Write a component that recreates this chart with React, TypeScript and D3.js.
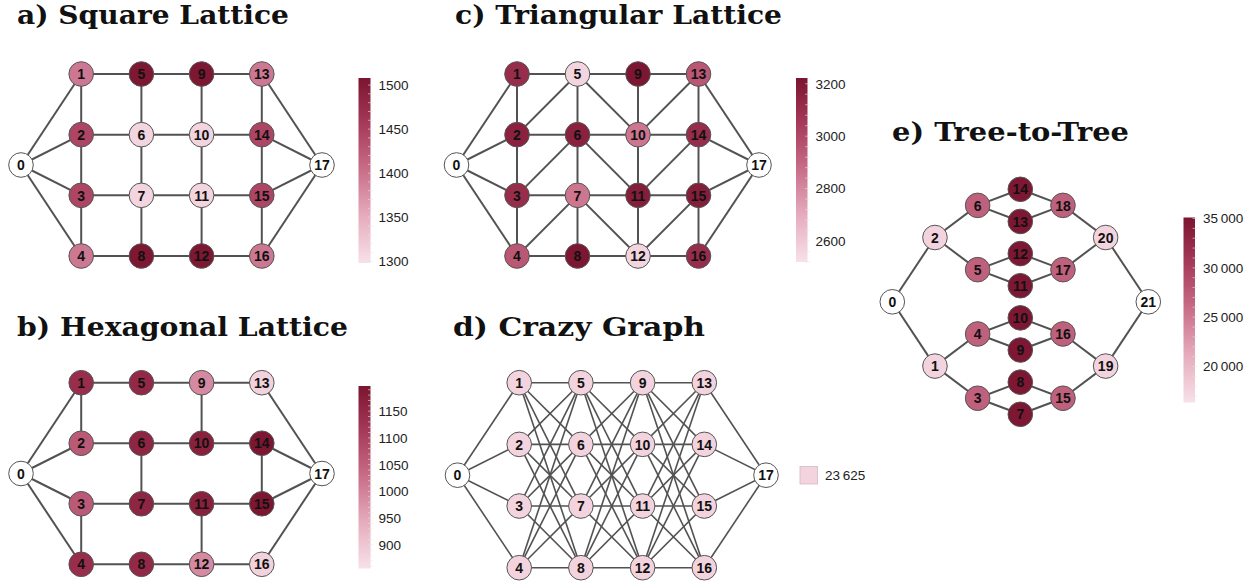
import React from 'react';
import * as d3 from 'd3';

const W = 1256;
const H = 588;

// ---------- colour map ----------
const COLOR_STOPS = ['#f7e1e8', '#e6adbf', '#c96f8a', '#a63a5a', '#7b1530'];
const cmap = d3.piecewise(d3.interpolateRgb, COLOR_STOPS);

// ---------- lattice layout (shared by a, b, c, d) ----------
const latticeIds = [0, 1, 2, 3, 4, 5, 6, 7, 8, 9, 10, 11, 12, 13, 14, 15, 16, 17];
const latticeCols = [0, 1, 1, 1, 1, 2, 2, 2, 2, 3, 3, 3, 3, 4, 4, 4, 4, 5];
const latticeRows = [1.5, 0, 1, 2, 3, 0, 1, 2, 3, 0, 1, 2, 3, 0, 1, 2, 3, 1.5];

const squareEdges: [number, number][] = [
  [0, 1], [0, 2], [0, 3], [0, 4],
  [1, 2], [2, 3], [3, 4], [5, 6], [6, 7], [7, 8], [9, 10], [10, 11], [11, 12], [13, 14], [14, 15], [15, 16],
  [1, 5], [5, 9], [9, 13], [2, 6], [6, 10], [10, 14], [3, 7], [7, 11], [11, 15], [4, 8], [8, 12], [12, 16],
  [13, 17], [14, 17], [15, 17], [16, 17],
];
const hexEdges: [number, number][] = [
  [0, 1], [0, 2], [0, 3], [0, 4],
  [1, 5], [5, 9], [9, 13], [1, 2], [2, 6], [6, 10], [10, 14], [9, 10], [6, 7],
  [3, 7], [7, 11], [11, 15], [14, 15], [3, 4], [4, 8], [8, 12], [12, 16], [11, 12],
  [13, 17], [14, 17], [15, 17], [16, 17],
];
const triDiagonals: [number, number][] = [
  [2, 5], [3, 6], [4, 7], [5, 10], [6, 11], [7, 12], [10, 13], [11, 14], [12, 15],
];
const triEdges: [number, number][] = [...squareEdges, ...triDiagonals];

const crazyColumns = [[1, 2, 3, 4], [5, 6, 7, 8], [9, 10, 11, 12], [13, 14, 15, 16]];
const crazyEdges: [number, number][] = (() => {
  const e: [number, number][] = [];
  crazyColumns[0].forEach((n) => e.push([0, n]));
  for (let c = 0; c < crazyColumns.length - 1; c++) {
    crazyColumns[c].forEach((a) => crazyColumns[c + 1].forEach((b) => e.push([a, b])));
  }
  crazyColumns[3].forEach((n) => e.push([n, 17]));
  return e;
})();

// node values (null = source / sink, drawn white)
const squareValues = [null, 1395, 1445, 1445, 1395, 1505, 1310, 1310, 1505, 1505, 1310, 1310, 1505, 1395, 1445, 1445, 1395, null];
const hexValues = [null, 1140, 1060, 1060, 1140, 1150, 1160, 1160, 1150, 990, 1170, 1170, 990, 880, 1195, 1195, 880, null];
const triValues = [null, 3110, 3160, 3110, 2950, 2560, 3160, 2850, 3215, 3215, 2850, 3180, 2560, 2950, 3110, 3180, 3110, null];
const crazyValue = 23625;
const crazyValues = latticeIds.map((i) => (i === 0 || i === 17 ? null : crazyValue));

// colour-bar domains and ticks
const squareDomain = [1298, 1508];
const squareTicks = [1300, 1350, 1400, 1450, 1500];
const hexDomain = [856, 1197];
const hexTicks = [900, 950, 1000, 1050, 1100, 1150];
const triDomain = [2520, 3222];
const triTicks = [2600, 2800, 3000, 3200];
const treeDomain = [16350, 35100];
const treeTicks = [20000, 25000, 30000, 35000];
// a single-valued graph: the colour sits at the light end of the map
const crazyDomain = [crazyValue - 1600, crazyValue + 25000];

// ---------- tree-to-tree ----------
const treeIds = d3.range(22);
const treeLevels = [0, 1, 1, 2, 2, 2, 2, 3, 3, 3, 3, 3, 3, 3, 3, 4, 4, 4, 4, 5, 5, 6];
const treeRows = [3.5, 5.5, 1.5, 6.5, 4.5, 2.5, 0.5, 7, 6, 5, 4, 3, 2, 1, 0, 6.5, 4.5, 2.5, 0.5, 5.5, 1.5, 3.5];
const treeEdges: [number, number][] = [
  [0, 2], [0, 1], [2, 6], [2, 5], [1, 4], [1, 3],
  [6, 14], [6, 13], [5, 12], [5, 11], [4, 10], [4, 9], [3, 8], [3, 7],
  [14, 18], [13, 18], [12, 17], [11, 17], [10, 16], [9, 16], [8, 15], [7, 15],
  [18, 20], [17, 20], [16, 19], [15, 19], [20, 21], [19, 21],
];
const treeValues = [null, 17500, 17500, 27000, 27000, 27000, 27000, 34800, 34800, 34800, 34800, 34800, 34800, 34800, 34800, 27000, 27000, 27000, 27000, 17500, 17500, null];

// ---------- helpers ----------
const fmt = (v: number) => {
  if (Math.abs(v) >= 10000) return d3.format(',')(v).replace(/,/g, '\u2009');
  return String(v);
};

const EDGE = '#525252';
const NODE_STROKE = '#555555';
const SANS = "'Liberation Sans', Arial, sans-serif";
const SERIF = "'DejaVu Serif', serif";

type GraphProps = {
  ids: number[];
  xs: number[];
  ys: number[];
  edges: [number, number][];
  values: (number | null)[];
  xScale: d3.ScaleLinear<number, number>;
  yScale: d3.ScaleLinear<number, number>;
  domain: number[];
  edgeWidth?: number;
  r?: number;
};

function Graph({ ids, xs, ys, edges, values, xScale, yScale, domain, edgeWidth = 2, r = 12.3 }: GraphProps) {
  const t = d3.scaleLinear().domain(domain).range([0, 1]).clamp(true);
  const px = (i: number) => xScale(xs[ids.indexOf(i)]);
  const py = (i: number) => yScale(ys[ids.indexOf(i)]);
  return (
    <g>
      {edges.map(([a, b], k) => (
        <line key={k} x1={px(a)} y1={py(a)} x2={px(b)} y2={py(b)} stroke={EDGE} strokeWidth={edgeWidth} />
      ))}
      {ids.map((id, k) => {
        const v = values[k];
        return (
          <g key={id}>
            <circle cx={px(id)} cy={py(id)} r={r} fill={v == null ? '#ffffff' : cmap(t(v))} stroke={NODE_STROKE} strokeWidth={1} />
            <text x={px(id)} y={py(id)} dy="0.37em" textAnchor="middle" fontFamily={SANS} fontWeight="bold" fontSize={14} fill="#111">
              {id}
            </text>
          </g>
        );
      })}
    </g>
  );
}

type BarProps = { id: string; x: number; y0: number; y1: number; w: number; domain: number[]; ticks: number[] };

function ColorBar({ id, x, y0, y1, w, domain, ticks }: BarProps) {
  const y = d3.scaleLinear().domain(domain).range([y1, y0]);
  const step = ticks[1] - ticks[0];
  const minor = d3.range(Math.ceil(domain[0] / (step / 5)) * (step / 5), domain[1], step / 5);
  const stops = d3.range(0, 1.0001, 0.05);
  return (
    <g>
      <defs>
        <linearGradient id={id} x1="0" y1="1" x2="0" y2="0">
          {stops.map((s, k) => (
            <stop key={k} offset={s} stopColor={cmap(s)} />
          ))}
        </linearGradient>
      </defs>
      <rect x={x} y={y0} width={w} height={y1 - y0} fill={`url(#${id})`} />
      {minor.map((m, k) => (
        <line key={k} x1={x + w - 2.5} x2={x + w + 2} y1={y(m)} y2={y(m)} stroke="#e2e2e2" strokeWidth={0.6} />
      ))}
      {ticks.map((tk) => (
        <text key={tk} x={x + w + 8} y={y(tk)} dy="0.36em" fontFamily={SANS} fontSize={13.5} fill="#222">
          {fmt(tk)}
        </text>
      ))}
    </g>
  );
}

function Title({ x, y, w, text }: { x: number; y: number; w: number; text: string }) {
  return (
    <text x={x} y={y} fontFamily={SERIF} fontWeight="bold" fontSize={26} fill="#111" textLength={w} lengthAdjust="spacingAndGlyphs">
      {text}
    </text>
  );
}

export default function App() {
  const xA = d3.scaleLinear().domain([0, 5]).range([21, 322]);
  const yA = d3.scaleLinear().domain([0, 3]).range([74, 256]);
  const xC = d3.scaleLinear().domain([0, 5]).range([456.5, 759]);
  const yB = d3.scaleLinear().domain([0, 3]).range([382.7, 564.3]);
  const xD = d3.scaleLinear().domain([0, 5]).range([457.5, 766]);
  const yD = d3.scaleLinear().domain([0, 3]).range([382.7, 567.7]);
  const xE = d3.scaleLinear().domain([0, 6]).range([892.3, 1148.3]);
  const yE = d3.scaleLinear().domain([0, 7]).range([189.3, 414.3]);
  const tCrazy = d3.scaleLinear().domain(crazyDomain).range([0, 1]);

  return (
    <svg width={W} height={H} style={{ position: 'absolute', left: 0, top: 0, background: '#fff' }}>
      <rect width={W} height={H} fill="#fff" />
      <Title x={17} y={24} w={272} text="a) Square Lattice" />
      <Title x={455} y={24} w={327} text="c) Triangular Lattice" />
      <Title x={17} y={336} w={331} text="b) Hexagonal Lattice" />
      <Title x={453} y={336} w={252} text="d) Crazy Graph" />
      <Title x={892} y={141} w={237} text="e) Tree-to-Tree" />

      <Graph ids={latticeIds} xs={latticeCols} ys={latticeRows} edges={squareEdges} values={squareValues} xScale={xA} yScale={yA} domain={squareDomain} />
      <ColorBar id="cbA" x={358.5} y0={78} y1={263} w={12} domain={squareDomain} ticks={squareTicks} />

      <Graph ids={latticeIds} xs={latticeCols} ys={latticeRows} edges={triEdges} values={triValues} xScale={xC} yScale={yA} domain={triDomain} />
      <ColorBar id="cbC" x={796} y0={78} y1={262} w={11.5} domain={triDomain} ticks={triTicks} />

      <Graph ids={latticeIds} xs={latticeCols} ys={latticeRows} edges={hexEdges} values={hexValues} xScale={xA} yScale={yB} domain={hexDomain} />
      <ColorBar id="cbB" x={358.5} y0={386} y1={568.5} w={12} domain={hexDomain} ticks={hexTicks} />

      <Graph ids={latticeIds} xs={latticeCols} ys={latticeRows} edges={crazyEdges} values={crazyValues} xScale={xD} yScale={yD} domain={crazyDomain} edgeWidth={1.6} />
      <rect x={800} y={466.5} width={17.5} height={17.5} fill={cmap(tCrazy(crazyValue))} stroke="#d8b8c2" strokeWidth={0.8} />
      <text x={825} y={475.5} dy="0.36em" fontFamily={SANS} fontSize={13.5} fill="#222">{fmt(crazyValue)}</text>

      <Graph ids={treeIds} xs={treeLevels} ys={treeRows} edges={treeEdges} values={treeValues} xScale={xE} yScale={yE} domain={treeDomain} />
      <ColorBar id="cbE" x={1183.5} y0={217.5} y1={402.5} w={11.5} domain={treeDomain} ticks={treeTicks} />
    </svg>
  );
}
